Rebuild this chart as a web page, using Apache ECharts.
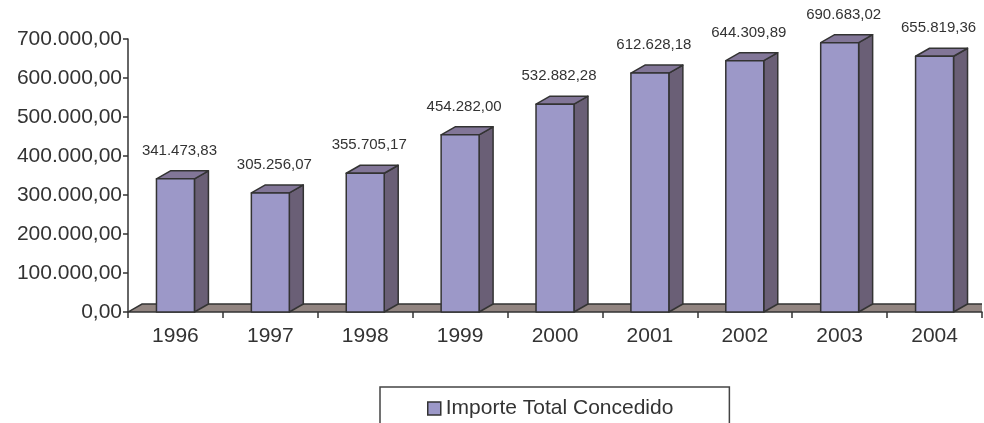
<!DOCTYPE html>
<html>
<head>
<meta charset="utf-8">
<script src="https://cdn.jsdelivr.net/npm/echarts@6/dist/echarts.min.js"></script>
<style>html,body{margin:0;padding:0;background:#fff}#c{width:984px;height:423px}</style>
</head>
<body>
<div id="c"></div>
<script>
const categories = ['1996', '1997', '1998', '1999', '2000', '2001', '2002', '2003', '2004'];
const importeTotal = [341473.83, 305256.07, 355705.17, 454282.00, 532882.28, 612628.18, 644309.89, 690683.02, 655819.36];
const seriesName = 'Importe Total Concedido';

function fmt(v, dec) {
  const parts = v.toFixed(dec).split('.');
  const intp = parts[0].replace(/\B(?=(\d{3})+(?!\d))/g, '.');
  return dec ? intp + ',' + parts[1] : intp;
}

const DX = 14, DY = -8;
const FRONT = '#9c98c8', SIDE = '#6a5f76', TOP = '#827698', EDGE = '#333333', FLOOR = '#928581';
const FONT = 'Liberation Sans, Arial, sans-serif';

function renderBar(params, api) {
  const i = api.value(0), v = api.value(1);
  const top = api.coord([i, v]);
  const base = api.coord([i, 0]);
  const band = api.size([1, 0])[0];
  const w = band * 0.4;
  const x0 = top[0] - w / 2, x1 = top[0] + w / 2, yT = top[1], yB = base[1];
  const st = (f) => ({ fill: f, stroke: EDGE, lineWidth: 1.5, lineJoin: 'round' });
  return {
    type: 'group',
    children: [
      { type: 'polygon', shape: { points: [[x1, yB], [x1 + DX, yB + DY], [x1 + DX, yT + DY], [x1, yT]] }, style: st(SIDE) },
      { type: 'polygon', shape: { points: [[x0, yT], [x1, yT], [x1 + DX, yT + DY], [x0 + DX, yT + DY]] }, style: st(TOP) },
      { type: 'rect', shape: { x: x0, y: yT, width: w, height: yB - yT }, style: st(FRONT) },
      { type: 'text', style: { text: fmt(v, 2), x: top[0] + 4, y: yT + DY - 20, textAlign: 'center', textVerticalAlign: 'middle', fill: '#333', font: '15px ' + FONT } }
    ]
  };
}

function renderFloor(params, api) {
  const cs = params.coordSys;
  const yB = api.coord([0, 0])[1];
  const x = cs.x, w = cs.width + 40;
  return {
    type: 'polygon',
    shape: { points: [[x, yB], [x + DX, yB + DY], [x + w + DX, yB + DY], [x + w, yB]] },
    style: { fill: FLOOR, stroke: EDGE, lineWidth: 1.5 }
  };
}

const chart = echarts.init(document.getElementById('c'), null, { renderer: 'canvas' });
chart.setOption({
  animation: false,
  backgroundColor: '#fff',
  textStyle: { fontFamily: FONT },
  grid: { left: 128, right: 2, top: 39, bottom: 111, containLabel: false },
  legend: {
    data: [{ name: seriesName, icon: 'rect' }],
    left: 380, top: 387,
    padding: [11, 56, 30, 47],
    borderColor: '#444', borderWidth: 1.5,
    itemWidth: 13, itemHeight: 13,
    itemStyle: { color: FRONT, borderColor: EDGE, borderWidth: 1.5 },
    textStyle: { fontSize: 21, color: '#333', fontFamily: FONT }
  },
  xAxis: {
    type: 'category', data: categories,
    axisLine: { show: true, lineStyle: { color: '#333', width: 1.5 } },
    axisTick: { show: true, length: 6, alignWithLabel: false, lineStyle: { color: '#333', width: 1.5 } },
    axisLabel: { fontSize: 21, color: '#333', margin: 14, fontFamily: FONT },
    splitLine: { show: false }
  },
  yAxis: {
    type: 'value', min: 0, max: 700000, interval: 100000,
    axisLine: { show: true, lineStyle: { color: '#333', width: 1.5 } },
    axisTick: { show: true, length: 5, lineStyle: { color: '#333', width: 1.5 } },
    axisLabel: { fontSize: 21, color: '#333', margin: 6, fontFamily: FONT, formatter: (v) => fmt(v, 2) },
    splitLine: { show: false }
  },
  series: [
    { type: 'custom', renderItem: renderFloor, data: [[0, 0]], silent: true, z: 1, clip: true },
    {
      name: seriesName, type: 'custom', renderItem: renderBar, z: 2,
      itemStyle: { color: FRONT },
      encode: { x: 0, y: 1 },
      data: categories.map((c, i) => [i, importeTotal[i]])
    }
  ]
});
</script>
</body>
</html>
